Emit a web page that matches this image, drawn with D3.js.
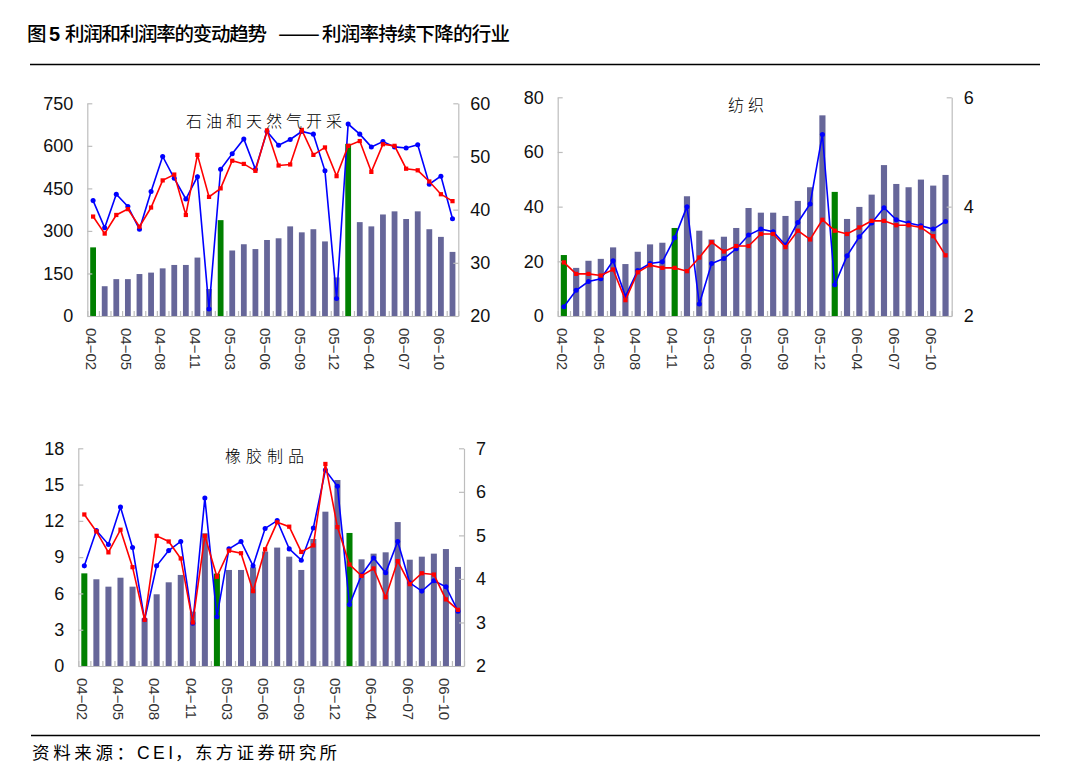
<!DOCTYPE html>
<html><head><meta charset="utf-8">
<script src="https://cdn.jsdelivr.net/npm/d3@7"></script>
<style>
html,body{margin:0;padding:0;background:#fff;}
svg{display:block;}
</style></head>
<body>
<svg id="c" width="1069" height="779"></svg>
<script>
// ---- data ----
const categories = ["04-02","04-03","04-04","04-05","04-06","04-07","04-08","04-09","04-10","04-11","04-12",
  "05-02","05-03","05-04","05-05","05-06","05-07","05-08","05-09","05-10","05-11","05-12",
  "06-02","06-03","06-04","06-05","06-06","06-07","06-08","06-09","06-10","06-11"];
const tickLabels = ["04-02","04-05","04-08","04-11","05-03","05-06","05-09","05-12","06-04","06-07","06-10"];

// 石油和天然气开采
const oilProfit = [242,105,130,130,148,153,168,180,180,206,95,338,231,253,236,268,274,316,295,306,263,136,607,331,316,358,369,342,369,306,279,226];
const oilRateBlue = [41.7,36.6,42.9,40.6,36.3,43.4,50.0,45.9,42.0,46.2,21.3,47.6,50.5,53.3,47.6,54.7,52.1,53.2,54.7,54.2,47.3,23.3,56.1,54.2,51.8,52.8,51.8,51.6,52.2,44.8,46.3,38.3];
const oilRateRed = [38.7,35.5,39.0,40.1,36.8,40.4,45.5,46.6,39.0,50.3,42.4,44.0,49.2,48.6,47.3,54.9,48.3,48.5,55.0,50.3,51.7,46.3,52.0,52.9,47.1,52.3,52.0,47.7,47.4,45.3,42.9,41.6];
const oilGreen = ["04-02","05-02","06-02"];

// 纺织
const texProfit = [22.3,17.6,20.2,20.9,25.1,19.0,23.5,26.2,26.8,32.2,43.8,31.2,28.0,29.0,32.2,39.5,37.8,37.8,36.6,42.1,47.1,73.4,45.4,35.5,39.9,44.4,55.2,48.3,47.1,49.9,47.7,51.6];
const texRateBlue = [2.17,2.47,2.63,2.68,3.01,2.36,2.83,2.96,2.99,3.43,4.0,2.22,2.96,3.05,3.23,3.48,3.59,3.54,3.30,3.71,4.05,5.32,2.57,3.10,3.45,3.70,3.98,3.76,3.70,3.65,3.59,3.73];
const texRateRed = [2.98,2.77,2.77,2.74,2.85,2.29,2.80,2.93,2.88,2.88,2.82,3.07,3.35,3.18,3.28,3.28,3.5,3.5,3.26,3.56,3.40,3.76,3.56,3.5,3.62,3.74,3.74,3.66,3.66,3.62,3.46,3.11];
const texGreen = ["04-02","04-11","06-02"];

// 橡胶制品
const rubProfit = [7.66,7.17,6.56,7.30,6.56,3.94,5.93,6.92,7.53,4.5,10.97,7.64,7.94,7.94,8.16,9.46,9.79,9.04,7.94,10.5,12.76,15.38,11.0,8.82,9.29,9.4,11.9,8.79,9.04,9.29,9.67,8.19];
const rubRateBlue = [4.30,5.11,4.79,5.65,4.72,3.06,4.30,4.65,4.86,2.98,5.86,3.13,4.69,4.86,4.30,5.16,5.34,4.69,4.43,5.17,6.50,6.13,3.41,4.09,4.48,4.14,4.86,3.91,3.72,3.96,3.82,3.26];
const rubRateRed = [5.48,5.09,4.61,5.13,4.27,3.06,4.99,4.86,4.47,3.0,4.99,4.05,4.65,4.59,3.72,4.68,5.30,5.20,4.62,4.77,6.64,5.19,4.33,4.07,4.24,3.58,4.41,3.88,4.13,4.10,3.53,3.29];
const rubGreen = ["04-02","05-02","06-02"];

const oilLeftTicks = [0,150,300,450,600,750], oilRightTicks = [20,30,40,50,60];
const texLeftTicks = [0,20,40,60,80], texRightTicks = [2,4,6];
const rubLeftTicks = [0,3,6,9,12,15,18], rubRightTicks = [2,3,4,5,6,7];

// ---- drawing ----
const svg = d3.select("#c");
const AX = "#bdbdbd", BAR = "#666699", GREEN = "#008000";
const tickFont = "'Liberation Sans', Arial, sans-serif";
const cjk = "'Noto Sans CJK SC', sans-serif";
const fmt = d3.format("d");

function panel(o){
  const g = svg.append("g");
  const x = d3.scaleBand().domain(categories).range([o.x0,o.x1]).paddingInner(0.5).paddingOuter(0.25);
  const xl = d3.scaleLinear().domain([0,categories.length]).range([o.x0,o.x1]);
  const yL = d3.scaleLinear().domain(d3.extent(o.lt)).range([o.yb,o.yt]);
  const yR = d3.scaleLinear().domain(d3.extent(o.rt)).range([o.yb,o.yt]);

  // bars
  g.append("g").selectAll("rect").data(categories).join("rect")
    .attr("x", d=>x(d)).attr("width", x.bandwidth())
    .attr("y", (d,i)=>yL(o.bars[i])).attr("height",(d,i)=>o.yb-yL(o.bars[i]))
    .attr("fill", d=> o.green.includes(d)?GREEN:BAR);

  // axes
  const la = g.append("g").attr("transform",`translate(${o.x0},0)`)
    .call(d3.axisLeft(yL).tickValues(o.lt).tickFormat(fmt).tickSizeInner(-5).tickSizeOuter(0).tickPadding(14));
  const ra = g.append("g").attr("transform",`translate(${o.x1},0)`)
    .call(d3.axisRight(yR).tickValues(o.rt).tickFormat(fmt).tickSizeInner(-5).tickSizeOuter(0).tickPadding(12));
  const ba = g.append("g").attr("transform",`translate(0,${o.yb})`)
    .call(d3.axisBottom(xl).tickValues(d3.range(categories.length+1)).tickSizeInner(-5).tickSizeOuter(0).tickFormat(""));
  const lab = g.append("g").attr("transform",`translate(0,${o.yb})`)
    .call(d3.axisBottom(x).tickValues(tickLabels).tickSize(0).tickFormat(d=>d.replace("-","\u2212")));
  lab.select(".domain").remove();
  lab.selectAll("text").attr("transform","rotate(90)").attr("x",12).attr("y",2).attr("dy","0.35em")
    .style("text-anchor","start").style("font-family",tickFont).style("font-size","15px").attr("fill","#333");
  [la,ra,ba].forEach(a=>{
    a.selectAll(".domain").attr("stroke",AX).attr("stroke-width",1.2);
    a.selectAll("line").attr("stroke",AX).attr("stroke-width",1.2);
    a.selectAll("text").style("font-family",tickFont).style("font-size","18px").attr("fill","#111");
  });

  const cx = d=>x(d)+x.bandwidth()/2;
  const series = [{v:o.blue,c:"#0000ff",m:"circle"},{v:o.red,c:"#ff0000",m:"square"}];
  series.forEach(s=>{
    const line = d3.line().x((d,i)=>cx(categories[i])).y(d=>yR(d));
    g.append("path").datum(s.v).attr("d",line).attr("fill","none").attr("stroke",s.c).attr("stroke-width",1.6);
    const sym = d3.symbol().type(s.m==="circle"?d3.symbolCircle:d3.symbolSquare).size(s.m==="circle"?20:18);
    g.append("g").selectAll("path").data(s.v).join("path")
      .attr("transform",(d,i)=>`translate(${cx(categories[i])},${yR(d)})`)
      .attr("d",sym).attr("fill",s.c);
  });

  g.append("text").attr("x",o.tx).attr("y",o.ty).attr("text-anchor","middle")
    .style("font-family",cjk).style("font-size","16px").style("font-weight",300)
    .style("letter-spacing",o.ls+"px").attr("fill","#000").text(o.title);
}

panel({x0:87.3,x1:458.3,yt:103.3,yb:316,lt:oilLeftTicks,rt:oilRightTicks,bars:oilProfit,blue:oilRateBlue,red:oilRateRed,green:oilGreen,title:"石油和天然气开采",tx:266,ty:127,ls:4});
panel({x0:557.7,x1:951.7,yt:97.3,yb:316,lt:texLeftTicks,rt:texRightTicks,bars:texProfit,blue:texRateBlue,red:texRateRed,green:texGreen,title:"纺织",tx:748,ty:111,ls:4});
panel({x0:78.3,x1:464,yt:448.3,yb:666,lt:rubLeftTicks,rt:rubRightTicks,bars:rubProfit,blue:rubRateBlue,red:rubRateRed,green:rubGreen,title:"橡胶制品",tx:267,ty:462,ls:5});

// title
const t = svg.append("text").attr("y",41).style("font-family",cjk).style("font-size","19.5px").style("font-weight",500).attr("fill","#000");
t.append("tspan").attr("x",27).text("图");
t.append("tspan").attr("x",49).style("font-family",tickFont).style("font-weight",700).style("font-size","20px").text("5");
t.append("tspan").attr("x",65).attr("textLength",202).text("利润和利润率的变动趋势");
t.append("tspan").attr("x",278).attr("textLength",42).attr("lengthAdjust","spacingAndGlyphs").text("——");
t.append("tspan").attr("x",322).attr("textLength",188).text("利润率持续下降的行业");

svg.append("line").attr("x1",30).attr("x2",1040).attr("y1",64.5).attr("y2",64.5).attr("stroke","#000").attr("stroke-width",1.5);
svg.append("line").attr("x1",31).attr("x2",1040).attr("y1",735.5).attr("y2",735.5).attr("stroke","#000").attr("stroke-width",1.5);

const f = svg.append("text").attr("y",759).style("font-family",cjk).style("font-size","17.5px").attr("fill","#000");
f.append("tspan").attr("x",32).attr("textLength",102).text("资料来源：");
f.append("tspan").attr("x",137).style("font-family",tickFont).attr("textLength",36).text("CEI");
f.append("tspan").attr("x",175).text("，");
f.append("tspan").attr("x",195).attr("textLength",142).text("东方证券研究所");
</script>
</body></html>
